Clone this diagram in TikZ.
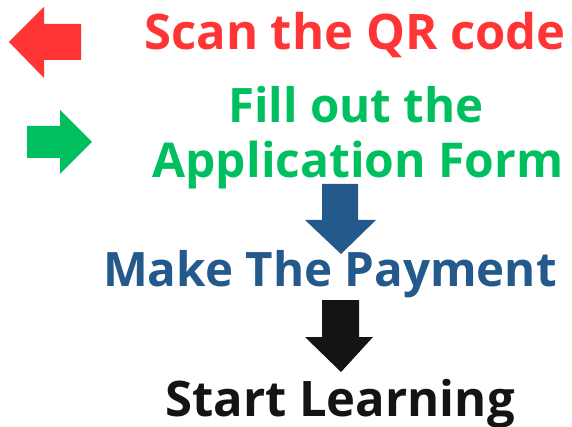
\documentclass[tikz,border=0pt]{standalone}
\usepackage{fontspec}
\setmainfont{Open Sans}
\usetikzlibrary{calc}

\definecolor{scanred}{HTML}{FF3535}
\definecolor{formgreen}{HTML}{00BF5F}
\definecolor{payblue}{HTML}{235A8B}
\definecolor{learnblack}{HTML}{141414}

\begin{document}
\begin{tikzpicture}[x=1pt,y=-1pt]
  \tikzset{
      steptext/.style={anchor=base,inner sep=0pt,font=\bfseries\fontsize{#1}{#1}\selectfont},
  }
  \useasboundingbox (0,0) rectangle (572,427);

  % side arrows
  \fill [scanred] (9,42) -- (44,7) -- (44,24) -- (81,24)
    -- (81,60) -- (44,60) -- (44,78) -- cycle;
  \fill [formgreen] (92,142) -- (60,110) -- (60,126) -- (27,126)
    -- (27,158) -- (60,158) -- (60,174) -- cycle;

  % down arrows
  \fill [payblue] (341,254) -- (305,220) -- (322,220) -- (322,184)
    -- (358,184) -- (358,220) -- (376,220) -- cycle;
  \fill [learnblack] (341,372) -- (305,337) -- (322,337) -- (322,300)
    -- (359,300) -- (359,337) -- (373,337) -- cycle;

  % the steps
  \node (scan) [steptext=49, text=scanred] at (355,50) {Scan the QR code};
  \node (fill) [steptext=47.5, text=formgreen] at (356,123) {Fill out the};
  \node (form) [steptext=48, text=formgreen] at (358,178) {Application Form};
  \node (pay) [steptext=47.5, text=payblue] at (330,287) {Make The Payment};
  \node (learn) [steptext=49, text=learnblack] at (340,416) {Start Learning};
\end{tikzpicture}
\end{document}
